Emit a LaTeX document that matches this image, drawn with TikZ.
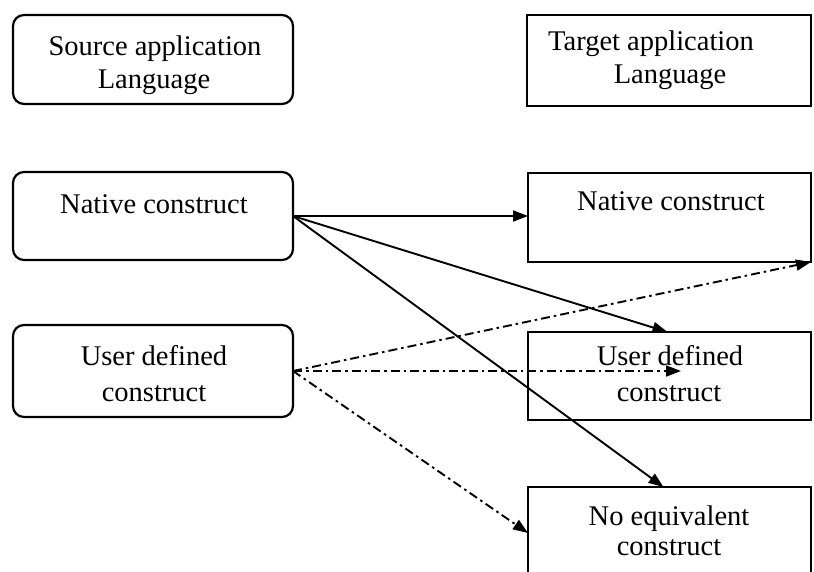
\documentclass[tikz,border=0pt]{standalone}
\usepackage{fontspec}
\setmainfont{Liberation Serif}
\usetikzlibrary{arrows.meta,calc}
\begin{document}
\begin{tikzpicture}[x=1pt,y=-1pt,
  box/.style={draw=black,line width=2.2pt,inner sep=0pt,outer sep=0pt},
  rbox/.style={box,rounded corners=11pt},
  txt/.style={anchor=base,inner sep=0pt,font=\fontsize{28.5}{34}\selectfont},
  tip/.style={-{Triangle[length=15pt,width=11pt]}},
  solidarrow/.style={tip,line width=1.9pt},
  dasharrow/.style={tip,line width=1.9pt,dash pattern=on 9pt off 4pt on 2.5pt off 4pt}]
\useasboundingbox (0,0) rectangle (814,571);

% left column: source language
\node[rbox,minimum width=280pt,minimum height=89pt] (src) at (153,59.5) {};
\node[rbox,minimum width=280pt,minimum height=88pt] (natL) at (153,216) {};
\node[rbox,minimum width=280pt,minimum height=92pt] (userL) at (153,371) {};

% right column: target language
\node[box,minimum width=284pt,minimum height=91pt] (tgt) at (669,60.5) {};
\node[box,minimum width=283pt,minimum height=89pt] (natR) at (669.5,217.5) {};
\node[box,minimum width=283pt,minimum height=88pt] (userR) at (669.5,376) {};
\node[box,minimum width=283pt,minimum height=93pt] (noeq) at (669.5,533.5) {};

% labels
\node[txt] (srcA) at (155,55) {Source application};
\node[txt] (srcB) at (154,88) {Language};
\node[txt] (tgtA) at (651,50) {Target application};
\node[txt] (tgtB) at (670,83) {Language};
\node[txt] (natLt) at (154,213) {Native construct};
\node[txt] (natRt) at (671,210) {Native construct};
\node[txt] (userLa) at (154,365) {User defined};
\node[txt] (userLb) at (154,401) {construct};
\node[txt] (userRa) at (670,365) {User defined};
\node[txt] (userRb) at (669,401) {construct};
\node[txt] (noeqA) at (669,525) {No equivalent};
\node[txt] (noeqB) at (669,555) {construct};

% free ends of connectors
\coordinate (udtip) at (681,371);
\coordinate (noeqtip) at ($(noeq.north west)+(0,46)$);
\coordinate (noeqtop) at ($(noeq.north)+(-6,0)$);

% native constructs
\draw[solidarrow] (natL.east) -- (natL.east -| natR.west);
\draw[solidarrow] (natL.east) -- ($(userR.north)+(-2,0)$);
\draw[solidarrow] (natL.east) -- (noeqtop);

% user defined constructs
\draw[dasharrow] (userL.east) -- (natR.south east);
\draw[dasharrow] (userL.east) -- (udtip);
\draw[dasharrow] (userL.east) -- (noeqtip);
\end{tikzpicture}
\end{document}
